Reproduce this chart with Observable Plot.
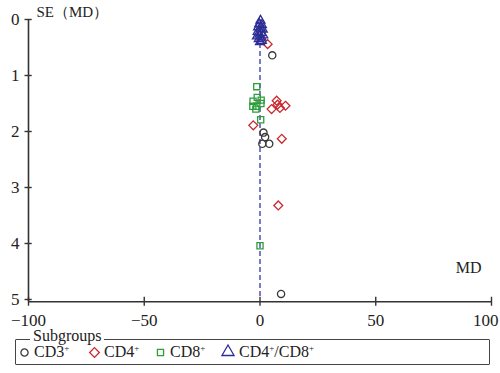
<!DOCTYPE html>
<html>
<head>
<meta charset="utf-8">
<script src="https://cdn.jsdelivr.net/npm/d3@7"></script>
<script src="https://cdn.jsdelivr.net/npm/@observablehq/plot@0.6"></script>
<style>
  html, body { margin: 0; padding: 0; background: #fff; }
  #wrap { position: relative; width: 500px; height: 373px; font-family: "Liberation Serif", "DejaVu Serif", serif; color: #222; overflow: hidden; }
  #chart svg { display: block; overflow: visible; }
  #legendBox { position: absolute; left: 15px; top: 339px; width: 473px; height: 24px; border: 1.6px solid #444; border-radius: 1px; }
  #legendTitle { position: absolute; left: 30px; top: 328px; padding: 0 3px; background: #fff; font-size: 16px; line-height: 15px; }
  .item { position: absolute; top: 343px; font-size: 16px; line-height: 18px; display: flex; align-items: center; white-space: nowrap; }
  .item svg { margin-right: 2px; }
  sup { font-size: 9px; vertical-align: 6px; line-height: 0; }
</style>
</head>
<body>
<div id="wrap">
  <div id="chart"></div>
  <div id="legendBox"></div>
  <div id="legendTitle">Subgroups</div>
</div>
<script>
// ---- data ----
const groups = ["CD3+", "CD4+", "CD8+", "CD4+/CD8+"];
const colors = ["#3a3a3a", "#c8282e", "#2e9e3a", "#2d2d96"];
const symbols = ["circle", "diamond2", "square2", "triangle2"];
const radii = [3.6, 4.0, 3.9, 4.3];

const cd3MD = [5.3, 1.5, 2.2, 1.0, 4.0, 9.1];
const cd3SE = [0.64, 2.02, 2.10, 2.22, 2.22, 4.90];

const cd4MD = [3.3, 5.0, 7.2, 8.6, 11.0, 7.6, -2.9, 9.4, 7.9];
const cd4SE = [0.44, 1.60, 1.45, 1.58, 1.54, 1.52, 1.89, 2.13, 3.32];

const cd8MD = [-1.4, -1.2, -3.0, 0.5, -3.1, -1.4, 0.4, -1.8, 0.3, 0.0];
const cd8SE = [1.20, 1.39, 1.46, 1.44, 1.55, 1.55, 1.50, 1.60, 1.79, 4.04];

const cd48MD = [0.2, -0.3, 0.8, -0.8, 0.3, 1.2, -1.0, 0.5, -0.2, 1.4, -1.3, 0.6, -0.5, 0.8, 0.0];
const cd48SE = [0.02, 0.08, 0.10, 0.14, 0.16, 0.18, 0.22, 0.24, 0.27, 0.28, 0.30, 0.32, 0.35, 0.38, 0.40];

const xTicks = [-100, -50, 0, 50, 100];
const yTicks = [0, 1, 2, 3, 4, 5];

const series = [
  {md: cd3MD, se: cd3SE},
  {md: cd4MD, se: cd4SE},
  {md: cd8MD, se: cd8SE},
  {md: cd48MD, se: cd48SE}
];

const fmt = d => d < 0 ? "\u2212" + Math.abs(d) : String(d);

const dotMarks = series.map((s, i) =>
  Plot.dot(s.md.map((m, j) => ({md: m, se: s.se[j]})), {
    x: "md", y: "se",
    symbol: () => symbols[i], r: radii[i],
    stroke: colors[i], strokeWidth: 1.3, fill: "none"
  })
);

const plot = Plot.plot({
  width: 500,
  height: 330,
  marginLeft: 28,
  marginRight: 9,
  marginTop: 19,
  marginBottom: 31,
  style: {fontFamily: "Liberation Serif, serif", fontSize: "16px", color: "#222", background: "#fff"},
  x: {domain: [-100, 100], label: null, axis: null},
  y: {domain: [0, 5], reverse: true, label: null, axis: null},
  symbol: {type: "identity"},
  marks: [
    Plot.ruleX([0], {y1: 0, y2: 5, stroke: "#3535a8", strokeWidth: 1.3, strokeDasharray: "5,3"}),
    Plot.ruleX([-100], {y1: 0, y2: 5.04, stroke: "#333", strokeWidth: 1.6}),
    Plot.ruleY([5.04], {x1: -100, x2: 100, stroke: "#333", strokeWidth: 1.6}),
    Plot.ruleX(xTicks, {x: d => d, y1: 4.96, y2: 5.12, stroke: "#333", strokeWidth: 1.4}),
    Plot.ruleY(yTicks, {y: d => d, x1: -101.5, x2: -98.4, stroke: "#333", strokeWidth: 1.4}),
    Plot.text(xTicks.filter(d => d < 100), {x: d => d, y: 5.04, text: d => fmt(d), dy: 19, fontSize: 17, fill: "#222"}),
    Plot.text(xTicks.filter(d => d === 100), {x: d => d, y: 5.04, text: d => fmt(d), dy: 19, dx: 7, textAnchor: "end", fontSize: 17, fill: "#222"}),
    Plot.text(yTicks, {x: -100, y: d => d, text: d => fmt(d), dx: -9, textAnchor: "end", fontSize: 17, fill: "#222"}),
    Plot.text(["SE\uFF08MD\uFF09"], {x: -100, y: 0, text: d => d, dx: 8, dy: -7, textAnchor: "start", fontSize: 15, fill: "#222"}),
    Plot.text(["MD"], {x: 100, y: 5, text: d => d, dx: -10, dy: -32, textAnchor: "end", fontSize: 16, fill: "#222"}),
    ...dotMarks
  ]
});
document.getElementById("chart").appendChild(plot);

// ---- legend ----
const labelsHTML = ["CD3<sup>+</sup>", "CD4<sup>+</sup>", "CD8<sup>+</sup>", "CD4<sup>+</sup>/CD8<sup>+</sup>"];
const itemLeft = [17, 87, 153, 219];
const d3Sym = {circle: d3.symbolCircle, diamond2: d3.symbolDiamond2, square2: d3.symbolSquare2, triangle2: d3.symbolTriangle2};
const wrap = document.getElementById("wrap");
groups.forEach((g, i) => {
  const div = document.createElement("div");
  div.className = "item";
  div.style.left = itemLeft[i] + "px";
  const size = i === 3 ? 18 : 15;
  const r = i === 3 ? 5.8 : (i === 1 ? 4.4 : radii[i]);
  const path = d3.symbol(d3Sym[symbols[i]], Math.PI * r * r)();
  div.innerHTML = `<svg width="${size}" height="${size}" viewBox="${-size/2} ${-size/2} ${size} ${size}"><path d="${path}" fill="none" stroke="${colors[i]}" stroke-width="1.3"/></svg><span>${labelsHTML[i]}</span>`;
  wrap.appendChild(div);
});
</script>
</body>
</html>
